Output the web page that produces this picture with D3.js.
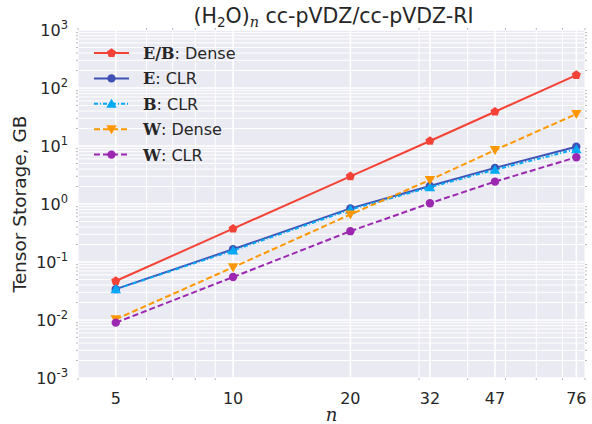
<!DOCTYPE html>
<html>
<head>
<meta charset="utf-8">
<script src="https://cdn.jsdelivr.net/npm/d3@7"></script>
<style>
  body { margin: 0; background: #fff; }
  text { fill: #262626; font-family: "DejaVu Sans", sans-serif; }
</style>
</head>
<body>
<svg id="chart" width="592" height="424"></svg>
<script>
// data
const nValues = [5, 10, 20, 32, 47, 76];
const ebDense = [0.047, 0.375, 3.0, 12.2, 39, 167];
const eClr    = [0.034, 0.166, 0.84, 2.04, 4.2, 9.7];
const bClr    = [0.034, 0.158, 0.80, 1.95, 3.9, 8.8];
const wDense  = [0.0103, 0.081, 0.66, 2.6, 8.5, 35.6];
const wClr    = [0.009, 0.055, 0.34, 1.03, 2.43, 6.4];
const yTickExps = [-3, -2, -1, 0, 1, 2, 3];

const width = 592, height = 424;
const margin = {left: 78, right: 7, top: 30, bottom: 46};

const svg = d3.select('#chart');

const x = d3.scaleLog().domain([4, 80]).range([margin.left, width - margin.right]);
const y = d3.scaleLog().domain([1e-3, 1e3]).range([height - margin.bottom, margin.top]);

// background
svg.append('rect')
  .attr('x', margin.left).attr('y', margin.top)
  .attr('width', width - margin.left - margin.right)
  .attr('height', height - margin.top - margin.bottom)
  .attr('fill', '#EAEAF2');

// minor grid
const xMinor = [4, 6, 7, 8, 9, 30, 40, 50, 60, 70, 80];
const yMinor = [];
yTickExps.slice(0, -1).forEach(e => {
  for (let k = 2; k <= 9; k++) yMinor.push(k * Math.pow(10, e));
});

const grid = svg.append('g');
grid.selectAll('line.xmin').data(xMinor).enter().append('line')
  .attr('x1', d => x(d)).attr('x2', d => x(d))
  .attr('y1', margin.top).attr('y2', height - margin.bottom)
  .attr('stroke', '#fff').attr('stroke-width', 1);
grid.selectAll('line.ymin').data(yMinor).enter().append('line')
  .attr('y1', d => y(d)).attr('y2', d => y(d))
  .attr('x1', margin.left).attr('x2', width - margin.right)
  .attr('stroke', '#fff').attr('stroke-width', 1);
// major grid
grid.selectAll('line.xmaj').data(nValues).enter().append('line')
  .attr('x1', d => x(d)).attr('x2', d => x(d))
  .attr('y1', margin.top).attr('y2', height - margin.bottom)
  .attr('stroke', '#fff').attr('stroke-width', 1.6);
grid.selectAll('line.ymaj').data(yTickExps).enter().append('line')
  .attr('y1', d => y(Math.pow(10, d))).attr('y2', d => y(Math.pow(10, d)))
  .attr('x1', margin.left).attr('x2', width - margin.right)
  .attr('stroke', '#fff').attr('stroke-width', 1.6);

// tiny minor tick marks at edges
const ticks = svg.append('g').attr('stroke', '#999').attr('stroke-width', 0.7);
yMinor.forEach(v => {
  ticks.append('line').attr('x1', margin.left - 2).attr('x2', margin.left).attr('y1', y(v)).attr('y2', y(v));
  ticks.append('line').attr('x1', width - margin.right).attr('x2', width - margin.right + 2).attr('y1', y(v)).attr('y2', y(v));
});
xMinor.forEach(v => {
  ticks.append('line').attr('y1', height - margin.bottom).attr('y2', height - margin.bottom + 2).attr('x1', x(v)).attr('x2', x(v));
  ticks.append('line').attr('y1', margin.top - 2).attr('y2', margin.top).attr('x1', x(v)).attr('x2', x(v));
});

// x tick labels
svg.selectAll('text.xt').data(nValues).enter().append('text')
  .attr('x', d => x(d)).attr('y', height - margin.bottom + 26)
  .attr('text-anchor', 'middle').style('font-size', '16px')
  .text(d => d);

// y tick labels
const yt = svg.selectAll('text.yt').data(yTickExps).enter().append('text')
  .attr('x', margin.left - 10).attr('y', d => y(Math.pow(10, d)) + 6)
  .attr('text-anchor', 'end').style('font-size', '16px');
yt.append('tspan').text('10');
yt.append('tspan').attr('dy', -7).style('font-size', '11.5px').text(d => d);

// axis labels
svg.append('text')
  .attr('transform', `translate(26, ${(margin.top + height - margin.bottom) / 2}) rotate(-90)`)
  .attr('text-anchor', 'middle').style('font-size', '18.5px')
  .text('Tensor Storage, GB');

svg.append('text')
  .attr('x', (margin.left + width - margin.right) / 2).attr('y', height - 3)
  .attr('text-anchor', 'middle')
  .style('font-size', '18px').style('font-family', '"DejaVu Serif", serif').style('font-style', 'italic')
  .text('n');

// title
const title = svg.append('text')
  .attr('x', (margin.left + width - margin.right) / 2 + 2).attr('y', 23)
  .attr('text-anchor', 'middle').style('font-size', '20.5px');
title.append('tspan').text('(H');
title.append('tspan').attr('dy', 4).style('font-size', '13.5px').text('2');
title.append('tspan').attr('dy', -4).text('O)');
title.append('tspan').attr('dy', 4).style('font-size', '14.5px')
  .style('font-family', '"DejaVu Serif", serif').style('font-style', 'italic').text('n');
title.append('tspan').attr('dy', -4).text(' cc-pVDZ/cc-pVDZ-RI');

// series
const series = [
  {vals: ebDense, color: '#F44336', dash: null, marker: 'pentagon', bold: 'E/B', label: ': Dense'},
  {vals: eClr, color: '#3F51B5', dash: null, marker: 'circle', bold: 'E', label: ': CLR'},
  {vals: bClr, color: '#03A9F4', dash: '4,2,1,2', marker: 'triUp', bold: 'B', label: ': CLR'},
  {vals: wDense, color: '#FF9800', dash: '6,3', marker: 'triDown', bold: 'W', label: ': Dense'},
  {vals: wClr, color: '#9C27B0', dash: '6,3', marker: 'circle', bold: 'W', label: ': CLR'}
];

function drawMarker(g, type, cx, cy, color) {
  if (type === 'circle') {
    g.append('circle').attr('cx', cx).attr('cy', cy).attr('r', 4.2).attr('fill', color);
  } else if (type === 'pentagon') {
    const pts = d3.range(5).map(i => {
      const a = -Math.PI / 2 + i * 2 * Math.PI / 5;
      return [cx + 4.8 * Math.cos(a), cy + 4.8 * Math.sin(a)];
    });
    g.append('path').attr('d', d3.line()(pts) + 'Z').attr('fill', color);
  } else {
    g.append('path')
      .attr('d', d3.symbol().type(d3.symbolTriangle).size(48)())
      .attr('transform', `translate(${cx},${cy + (type === 'triDown' ? -1 : 1)}) rotate(${type === 'triDown' ? 180 : 0})`)
      .attr('fill', color);
  }
}

const line = d3.line().x(d => x(d[0])).y(d => y(d[1]));

series.forEach(s => {
  const pts = nValues.map((n, i) => [n, s.vals[i]]);
  const g = svg.append('g');
  g.append('path').datum(pts)
    .attr('d', line).attr('fill', 'none')
    .attr('stroke', s.color).attr('stroke-width', 2)
    .attr('stroke-dasharray', s.dash);
  pts.forEach(p => drawMarker(g, s.marker, x(p[0]), y(p[1]), s.color));
});

// legend
const legend = svg.append('g');
series.forEach((s, i) => {
  const ly = 53 + i * 25.4;
  legend.append('line').attr('x1', 94).attr('x2', 129).attr('y1', ly).attr('y2', ly)
    .attr('stroke', s.color).attr('stroke-width', 2).attr('stroke-dasharray', s.dash);
  drawMarker(legend, s.marker, 111.5, ly, s.color);
  const t = legend.append('text').attr('x', 143).attr('y', ly + 6).style('font-size', '16px');
  t.append('tspan').style('font-family', '"DejaVu Serif", serif').style('font-weight', 'bold').text(s.bold);
  t.append('tspan').text(s.label);
});
</script>
</body>
</html>
